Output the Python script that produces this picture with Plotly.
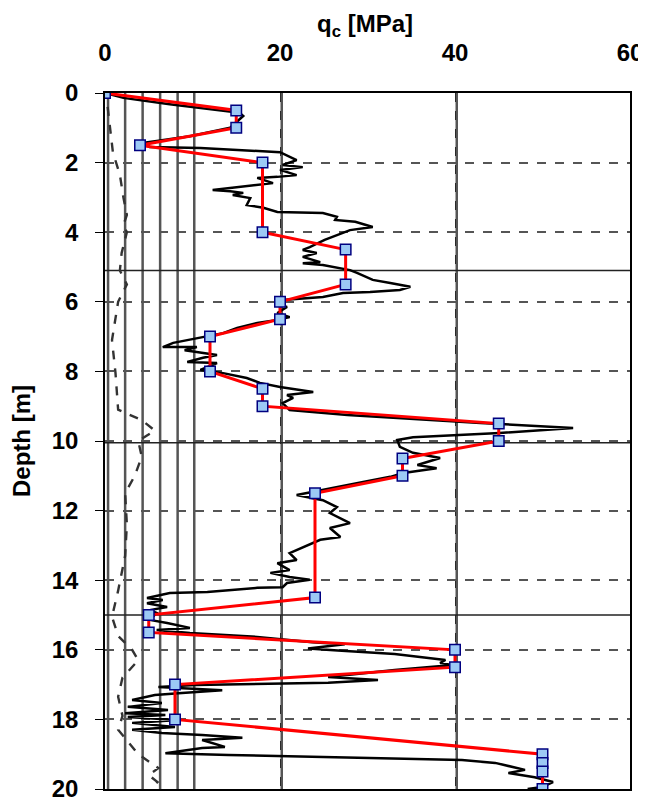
import plotly.graph_objects as go

# ---- interpreted (red) profile ----
qc_model = [0, 15, 15, 4, 18, 18, 27.5, 27.5, 20, 20, 12, 12, 18, 18, 45, 45, 34, 34, 24, 24,
            5, 5, 40, 40, 8, 8, 50, 50, 50, 50]
depth_model = [0, 0.5, 1.0, 1.5, 2.0, 4.0, 4.5, 5.5, 6.0, 6.5, 7.0, 8.0, 8.5, 9.0, 9.5, 10.0,
               10.5, 11.0, 11.5, 14.5, 15.0, 15.5, 16.0, 16.5, 17.0, 18.0, 19.0, 19.25, 19.5, 20.0]

# ---- digitised CPT cone resistance trace (black) ----
qc_trace = [0, 2.1, 7.4, 15.4, 15.8, 14.3, 9.7, 4.3, 5.1, 10.9, 20, 21.1, 21.9, 20.3, 22.6, 20, 21.9,
            19.7, 17.4, 19.2, 16.6, 12.3, 14.3, 15.8, 14.6, 16.6, 16.2, 17.4, 18.1, 19.7, 24.9, 26.5,
            26.3, 28.6, 30.6, 28, 27.2, 25.1, 23.4, 22.6, 24.2, 22.6, 24.6, 22.6, 24.9, 28, 28.8, 30.6,
            32.6, 34.9, 33.7, 30.3, 27.2, 24.9, 20.3, 19.7, 20.8, 19.7, 21.1, 19.7, 17.4, 15.1, 13.5,
            11.2, 7.8, 6.6, 10.5, 9.1, 12.8, 11.2, 9.4, 12.8, 10.9, 13.5, 16.2, 17.7, 20, 23.8, 20.8,
            21.5, 20.3, 21.1, 27.7, 42.9, 53.5, 45.1, 35.2, 33.4, 33.7, 35.2, 38.3, 35.7, 37.9, 34.1,
            32.6, 29.5, 24.9, 21.9, 24.9, 26.5, 25.7, 28, 25.7, 26.9, 24.6, 22.6, 21.1, 21.9, 19.7,
            21.1, 18.9, 21.1, 23.4, 20.8, 20.3, 17.4, 11.7, 7.4, 4.8, 6.6, 4.8, 7.1, 5.1, 5.9, 5.1,
            7.1, 9.7, 5.9, 9.7, 17.4, 23.7, 27.4, 23.2, 26.6, 33.1, 38.9, 38.3, 39.8, 33.1, 25.5,
            31.2, 25.5, 10.3, 6.1, 13.4, 8.8, 5.7, 3.1, 6.5, 2.6, 7.2, 2.3, 6.9, 2.6, 8.3, 3.1, 8.0,
            3.1, 6.5, 11.1, 15.7, 11.1, 13.7, 11.1, 6.9, 14.1, 25.5, 40.8, 44.6, 48, 46.1, 49.1,
            51.2, 50, 48.3]
depth_trace = [0, 0.14, 0.32, 0.57, 0.66, 1.0, 1.24, 1.44, 1.55, 1.58, 1.7, 1.84, 1.93, 2.07, 2.13,
               2.21, 2.36, 2.41, 2.44, 2.59, 2.67, 2.79, 2.82, 2.87, 2.93, 3.02, 3.22, 3.28, 3.3, 3.42,
               3.45, 3.56, 3.65, 3.7, 3.85, 3.94, 4.02, 4.22, 4.43, 4.51, 4.6, 4.71, 4.86, 4.89, 4.94,
               5.09, 5.17, 5.37, 5.46, 5.57, 5.66, 5.72, 5.75, 5.86, 5.95, 6.07, 6.15, 6.32, 6.44,
               6.52, 6.61, 6.75, 6.9, 7.01, 7.18, 7.3, 7.3, 7.39, 7.53, 7.61, 7.73, 7.76, 7.96, 8.05,
               8.19, 8.33, 8.45, 8.59, 8.68, 8.76, 8.91, 9.11, 9.25, 9.48, 9.63, 9.77, 9.89, 9.97,
               10.17, 10.34, 10.49, 10.69, 10.78, 10.92, 11.03, 11.18, 11.41, 11.55, 11.7, 11.9,
               12.07, 12.36, 12.5, 12.76, 12.84, 13.05, 13.22, 13.42, 13.51, 13.71, 13.79, 13.91,
               13.99, 14.08, 14.2, 14.22, 14.34, 14.37, 14.51, 14.57, 14.66, 14.77, 14.86, 14.94,
               15.14, 15.23, 15.37, 15.43, 15.52, 15.63, 15.78, 15.84, 15.96, 16.02, 16.12, 16.29,
               16.38, 16.44, 16.58, 16.78, 16.87, 16.95, 17.01, 17.07, 17.16, 17.24, 17.3, 17.44,
               17.53, 17.64, 17.73, 17.82, 17.87, 17.93, 18.02, 18.1, 18.22, 18.3, 18.39, 18.45,
               18.53, 18.59, 18.79, 18.82, 18.97, 19.02, 19.08, 19.17, 19.25, 19.45, 19.54, 19.66,
               19.8, 19.94, 20.0]

fs_trace = [0.3, 0.6, 0.9, 1.7, 2.1, 2.5, 2.1, 2.5, 1.9, 1.7, 2.5, 1.5, 0.8, 1.2, 1.5, 4.2, 5.7, 3.8,
            4.2, 3.4, 2.3, 2.5, 2.3, 1.5, 0.8, 1.5, 3.1, 3.8, 2.0, 1.5, 2.0, 1.5, 3.8, 6.1, 5.0, 6.0, 5.2]
fs_depth = [0.4, 1.0, 1.7, 2.35, 3.0, 3.5, 3.8, 4.0, 4.6, 5.1, 5.5, 6.0, 7.1, 8.05, 9.1, 9.4, 9.7,
            10.0, 10.45, 11.0, 11.5, 12.4, 13.3, 14.3, 15.05, 15.6, 16.0, 16.3, 16.8, 17.35, 17.9,
            18.3, 19.0, 19.4, 19.6, 19.8, 20.0]

# ---- scanned chart frame lines ----
scan_vlines = [0.35, 2.3, 4.3, 6.3, 8.3, 10.2, 20.2, 40.2]
scan_hlines = [5.1, 10.05, 15.0]

x_ticks = [0, 20, 40, 60]
y_ticks = [0, 2, 4, 6, 8, 10, 12, 14, 16, 18, 20]

FONT = "Liberation Sans, Arial, sans-serif"

fig = go.Figure()

# vertical scan lines
vx, vy = [], []
for v in scan_vlines:
    vx += [v, v, None]
    vy += [0, 20, None]
fig.add_trace(go.Scatter(x=vx, y=vy, mode="lines", line=dict(color="#555555", width=2.5),
                         hoverinfo="skip"))
# horizontal scan lines
hx, hy = [], []
for h in scan_hlines:
    hx += [0, 60, None]
    hy += [h, h, None]
fig.add_trace(go.Scatter(x=hx, y=hy, mode="lines", line=dict(color="#222222", width=1.5),
                         hoverinfo="skip"))

fig.add_trace(go.Scatter(x=fs_trace, y=fs_depth, mode="lines",
                         line=dict(color="#333333", width=2.4, dash="dash")))
fig.add_trace(go.Scatter(x=qc_trace, y=depth_trace, mode="lines",
                         line=dict(color="black", width=2.5)))
fig.add_trace(go.Scatter(x=qc_model, y=depth_model, mode="lines+markers",
                         line=dict(color="#ff0000", width=3),
                         marker=dict(symbol="square", size=10.5, color="#9cc9f5",
                                     line=dict(color="#000080", width=1.5))))

fig.update_layout(
    width=646, height=799,
    margin=dict(l=97, r=24, t=85, b=18),
    plot_bgcolor="white", paper_bgcolor="white",
    showlegend=False,
    font=dict(family=FONT, color="black"),
    xaxis=dict(side="top", range=[0, 60], tickvals=x_ticks, automargin=False,
               showgrid=True, gridcolor="black", griddash="dash", gridwidth=1,
               zeroline=False, showline=True, mirror=True, linecolor="black", linewidth=1.5,
               ticks="", ticklabelstandoff=21, ticklabeloverflow="allow",
               tickfont=dict(size=24, weight="bold", family=FONT)),
    yaxis=dict(range=[20, 0], tickvals=y_ticks, automargin=False,
               showgrid=True, gridcolor="#555555", griddash="dash", gridwidth=1.5,
               zeroline=False, showline=True, mirror=True, linecolor="black", linewidth=1.5,
               ticks="outside", ticklen=8, tickcolor="black", ticklabelstandoff=12,
               ticklabeloverflow="allow",
               tickfont=dict(size=24, weight="bold", family=FONT),
               title=dict(text="Depth [m]", font=dict(size=24, weight="bold", family=FONT),
                          standoff=14)),
    annotations=[dict(text="<b>q<sub>c</sub> [MPa]</b>", xref="paper", yref="paper",
                      x=0.495, y=1.0977, xanchor="center", yanchor="middle", showarrow=False,
                      font=dict(size=24, family=FONT))],
)

fig.write_html("out.html")
